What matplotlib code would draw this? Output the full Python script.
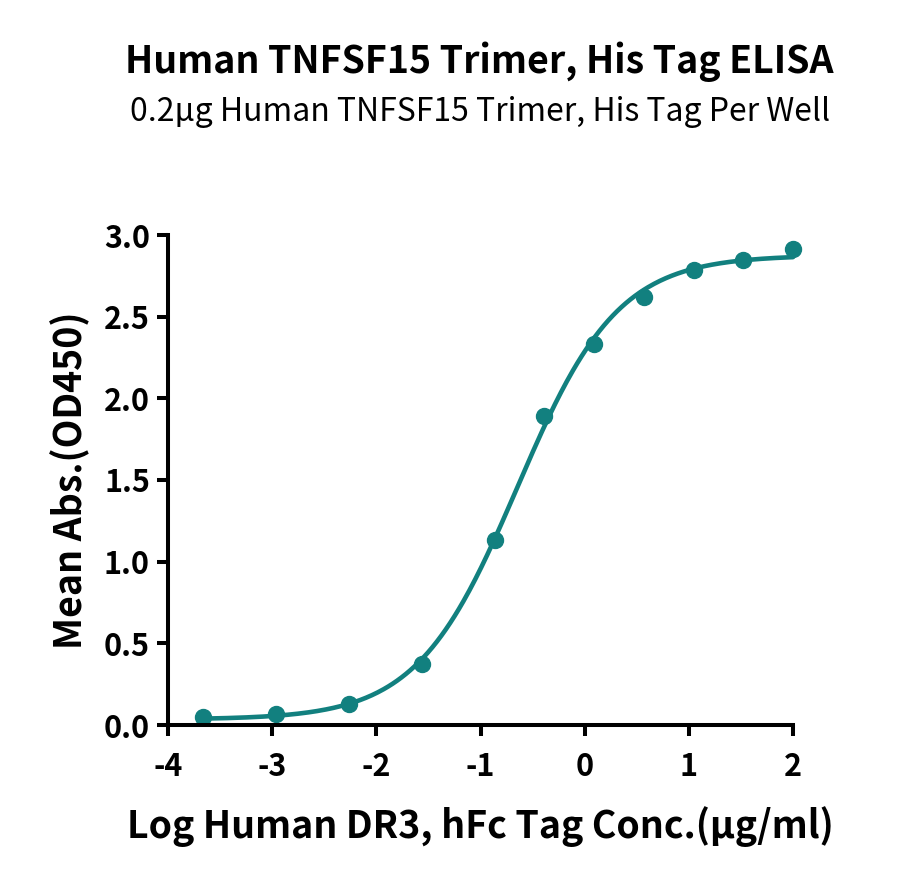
import matplotlib
matplotlib.use("Agg")
import matplotlib.pyplot as plt
import numpy as np

plt.rcParams['font.family'] = ['Noto Sans CJK SC', 'DejaVu Sans']

# data
log_conc = [-3.66, -2.96, -2.26, -1.56, -0.86, -0.39, 0.09, 0.57, 1.05, 1.52, 2.0]
mean_abs = [0.050, 0.068, 0.130, 0.374, 1.130, 1.893, 2.330, 2.620, 2.785, 2.847, 2.912]

x_ticks = [-4, -3, -2, -1, 0, 1, 2]
y_ticks = [0.0, 0.5, 1.0, 1.5, 2.0, 2.5, 3.0]

title = "Human TNFSF15 Trimer, His Tag ELISA"
subtitle = "0.2\u00b5g Human TNFSF15 Trimer, His Tag Per Well"
xlabel = "Log Human DR3, hFc Tag Conc.(\u00b5g/ml)"
ylabel = "Mean Abs.(OD450)"

teal = "#12807f"
heavy = "heavy"


#----------------------------------------------------------------------
def fourPL(x, p):
    bottom, top, logec50, hill = p
    return bottom + (top - bottom) / (1 + 10 ** ((logec50 - x) * hill))

#----------------------------------------------------------------------
def fitCurve(x, y):
    # small levenberg-marquardt, no scipy here
    p = np.array([min(y), max(y), -0.7, 1.0])
    lam = 1e-2
    for _ in range(300):
        r = y - fourPL(x, p)
        J = np.zeros((len(x), 4))
        for k in range(4):
            dp = np.zeros(4)
            dp[k] = 1e-6
            J[:, k] = (fourPL(x, p + dp) - fourPL(x, p)) / 1e-6
        A = J.T @ J
        step = np.linalg.solve(A + lam * np.diag(np.diag(A)), J.T @ r)
        p_new = p + step
        if np.sum((y - fourPL(x, p_new)) ** 2) < np.sum(r ** 2):
            p = p_new
            lam *= 0.5
        else:
            lam *= 4
    return p


x = np.array(log_conc)
y = np.array(mean_abs)
params = fitCurve(x, y)
xs = np.linspace(x.min(), x.max(), 400)

fig = plt.figure(figsize=(9, 8.88), dpi=100)
ax = fig.add_axes([168 / 900, 163 / 888, (793 - 168) / 900, (725 - 235) / 888])

ax.plot(xs, fourPL(xs, params), color=teal, lw=3.3, solid_capstyle="round", clip_on=False)
ax.plot(x, y, "o", color=teal, ms=11.5, clip_on=False)

ax.set_xlim(-4, 2)
ax.set_ylim(0, 3)
ax.set_xticks(x_ticks)
ax.set_yticks(y_ticks)
ax.set_xticklabels([str(t) for t in x_ticks])
ax.set_yticklabels([f"{t:.1f}" for t in y_ticks])

for s in ["top", "right"]:
    ax.spines[s].set_visible(False)
for s in ["left", "bottom"]:
    ax.spines[s].set_linewidth(2.9)
ax.tick_params(width=2.9, length=8, labelsize=22)
ax.tick_params(axis="x", pad=11)
ax.tick_params(axis="y", pad=5)
for lbl in ax.get_xticklabels() + ax.get_yticklabels():
    lbl.set_fontweight(heavy)

ax.set_xlabel(xlabel, fontsize=27, fontweight=heavy, labelpad=16)
ax.set_ylabel(ylabel, fontsize=27, fontweight=heavy, labelpad=10)

fig.text(0.533, 0.930, title, ha="center", va="center", fontsize=27, fontweight=heavy)
fig.text(0.533, 0.874, subtitle, ha="center", va="center", fontsize=23)

fig.savefig("out.png", dpi=100)
